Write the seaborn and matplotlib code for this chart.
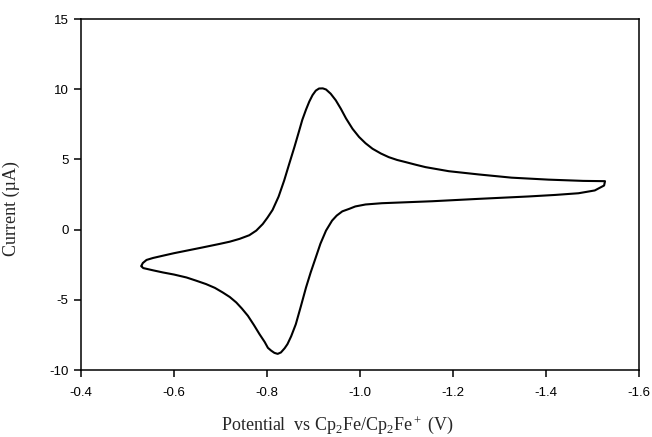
import numpy as np
import pandas as pd
import seaborn as sns
import matplotlib.pyplot as plt

# forward scan (upper branch), -0.53 V -> -1.53 V
fwd_potential = [-0.530, -0.533, -0.541, -0.555, -0.576, -0.600, -0.627, -0.660, -0.698,
                 -0.720, -0.741, -0.762, -0.777, -0.791, -0.801, -0.812, -0.825, -0.837,
                 -0.848, -0.859, -0.868, -0.876, -0.884, -0.891, -0.898, -0.905, -0.912,
                 -0.920, -0.927, -0.937, -0.948, -0.959, -0.970, -0.984, -0.998, -1.012,
                 -1.027, -1.045, -1.062, -1.080, -1.098, -1.120, -1.141, -1.191, -1.255,
                 -1.326, -1.405, -1.480, -1.527]
fwd_current = [-2.57, -2.38, -2.16, -2.02, -1.86, -1.68, -1.50, -1.28, -1.02,
               -0.86, -0.66, -0.40, -0.07, 0.40, 0.85, 1.40, 2.35, 3.50,
               4.70, 5.88, 6.90, 7.82, 8.55, 9.12, 9.58, 9.90, 10.05,
               10.06, 9.98, 9.68, 9.21, 8.60, 7.92, 7.18, 6.60, 6.15,
               5.76, 5.42, 5.16, 4.96, 4.81, 4.62, 4.45, 4.16, 3.93,
               3.70, 3.56, 3.47, 3.45]

# reverse scan (lower branch), -1.53 V -> -0.53 V
rev_potential = [-1.527, -1.525, -1.505, -1.470, -1.420, -1.362, -1.255, -1.155, -1.047,
                 -1.012, -0.990, -0.977, -0.962, -0.950, -0.940, -0.927, -0.915, -0.905,
                 -0.894, -0.884, -0.873, -0.862, -0.852, -0.844, -0.838, -0.830, -0.823,
                 -0.816, -0.809, -0.802, -0.795, -0.784, -0.772, -0.759, -0.746, -0.734,
                 -0.720, -0.705, -0.688, -0.669, -0.648, -0.627, -0.600, -0.576, -0.555,
                 -0.534, -0.530]
rev_current = [3.45, 3.14, 2.79, 2.59, 2.47, 2.36, 2.19, 2.02, 1.88,
               1.79, 1.65, 1.48, 1.30, 1.00, 0.64, -0.07, -1.00, -1.98,
               -3.05, -4.12, -5.45, -6.74, -7.60, -8.16, -8.45, -8.75, -8.85,
               -8.78, -8.62, -8.42, -8.00, -7.45, -6.80, -6.14, -5.62, -5.19,
               -4.80, -4.48, -4.15, -3.88, -3.64, -3.41, -3.20, -3.05, -2.90,
               -2.74, -2.62]

x_ticks = [-0.4, -0.6, -0.8, -1.0, -1.2, -1.4, -1.6]
y_ticks = [-10, -5, 0, 5, 10, 15]

sns.set_theme(style='ticks')
plt.rcParams['font.family'] = ['Liberation Sans', 'DejaVu Sans']
plt.rcParams['axes.unicode_minus'] = False
plt.rcParams['mathtext.fontset'] = 'custom'
plt.rcParams['mathtext.rm'] = 'Liberation Serif'
plt.rcParams['mathtext.it'] = 'Liberation Serif'

cv = pd.DataFrame({'potential': fwd_potential + rev_potential,
                   'current': fwd_current + rev_current})

fig = plt.figure(figsize=(6.52, 4.37), dpi=100)
ax = fig.add_axes([0.1242, 0.1533, 0.8558, 0.8032])
sns.lineplot(data=cv, x='potential', y='current', sort=False, estimator=None,
             color='black', linewidth=1.5, ax=ax)

ax.set_xlim(-0.4, -1.6)
ax.set_ylim(-10, 15)
ax.set_xticks(x_ticks)
ax.set_xticklabels([f'{t:.1f}' for t in x_ticks])
ax.set_yticks(y_ticks)
ax.tick_params(axis='both', direction='out', length=5, width=1.1, labelsize=9.5,
               colors='black')
ax.tick_params(axis='x', pad=7)
ax.tick_params(axis='y', pad=4)
for sp in ax.spines.values():
    sp.set_visible(True)
    sp.set_linewidth(1.1)
    sp.set_color('black')

ax.set_xlabel(r'Potential  vs Cp$_2$Fe/Cp$_2$Fe$^+$ (V)', family='Liberation Serif',
              fontsize=13)
ax.set_ylabel('Current (\u00b5A)', family='Liberation Serif', fontsize=13)
ax.xaxis.set_label_coords(0.46, -0.125)
ax.yaxis.set_label_coords(-0.11, 0.46)

plt.savefig('out.png', dpi=100)
